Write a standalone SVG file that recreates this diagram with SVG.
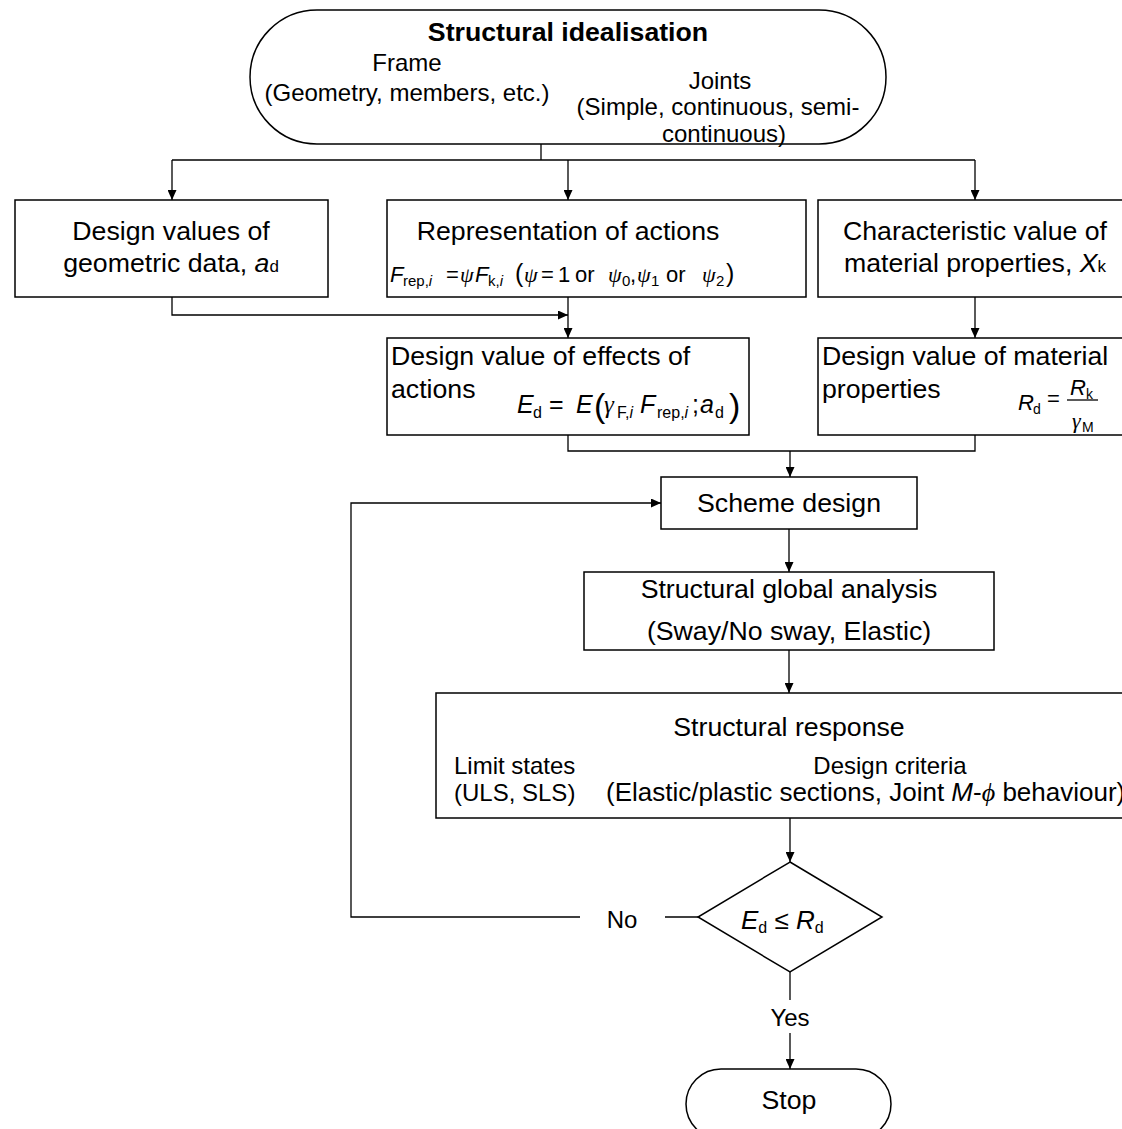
<svg xmlns="http://www.w3.org/2000/svg" width="1122" height="1129" viewBox="0 0 1122 1129">
<style>
text{font-family:"Liberation Sans",Arial,sans-serif;fill:#000}
.b{font-size:26.7px}
.m{font-size:24px}
.f{font-size:22px}
.s{font-size:15px}
.i{font-style:italic}
.g{font-family:"Liberation Serif","Times New Roman",serif;font-style:italic}
.box{fill:#fff;stroke:#000;stroke-width:1.5}
.ln{fill:none;stroke:#000;stroke-width:1.3}
</style>
<defs>
<marker id="ah" markerWidth="10" markerHeight="9" refX="10" refY="4.5" orient="auto" markerUnits="userSpaceOnUse">
<path d="M0,0 L10,4.5 L0,9 z" fill="#000"/>
</marker>
</defs>
<rect width="1122" height="1129" fill="#fff"/>

<g id="connectors">
<path class="ln" d="M541,144 V160"/>
<path class="ln" d="M172,160 H975"/>
<path class="ln" d="M172,160 V200" marker-end="url(#ah)"/>
<path class="ln" d="M568,160 V200" marker-end="url(#ah)"/>
<path class="ln" d="M975,160 V200" marker-end="url(#ah)"/>
<path class="ln" d="M172,297 V315 H568" marker-end="url(#ah)"/>
<path class="ln" d="M568,297 V338" marker-end="url(#ah)"/>
<path class="ln" d="M975,297 V338" marker-end="url(#ah)"/>
<path class="ln" d="M568,435 V451 H975 V435"/>
<path class="ln" d="M790,451 V477" marker-end="url(#ah)"/>
<path class="ln" d="M789,529 V572" marker-end="url(#ah)"/>
<path class="ln" d="M789,650 V693" marker-end="url(#ah)"/>
<path class="ln" d="M790,818 V862" marker-end="url(#ah)"/>
<path class="ln" d="M580,917 H351 V503 H661" marker-end="url(#ah)"/>
<path class="ln" d="M665,917 H698"/>
<path class="ln" d="M790,972 V1000"/>
<path class="ln" d="M790,1033 V1069" marker-end="url(#ah)"/>
<text class="m" x="622" y="928" text-anchor="middle">No</text>
<text class="m" x="790" y="1026" text-anchor="middle">Yes</text>
</g>

<g id="start">
<rect class="box" x="250" y="10" width="636" height="134" rx="67" ry="67"/>
<text class="b" x="568" y="41" text-anchor="middle" font-weight="bold">Structural idealisation</text>
<text class="m" x="407" y="71" text-anchor="middle">Frame</text>
<text class="m" x="407" y="101" text-anchor="middle">(Geometry, members, etc.)</text>
<text class="m" x="720" y="89" text-anchor="middle">Joints</text>
<text class="m" x="718" y="115" text-anchor="middle">(Simple, continuous, semi-</text>
<text class="m" x="724" y="142" text-anchor="middle">continuous)</text>
</g>

<g id="geometric">
<rect class="box" x="15" y="200" width="313" height="97"/>
<text class="b" x="171" y="240" text-anchor="middle">Design values of</text>
<text class="b" x="171" y="272" text-anchor="middle">geometric data, <tspan class="i">a</tspan><tspan font-size="17">d</tspan></text>
</g>

<g id="actions">
<rect class="box" x="387" y="200" width="419" height="97"/>
<text class="b" x="568" y="240" text-anchor="middle">Representation of actions</text>
<text class="f" y="282"><tspan class="i" x="390">F</tspan><tspan class="s" x="403" y="286">rep,</tspan><tspan class="s i" y="286">i</tspan><tspan x="446" y="282">=</tspan><tspan class="g" x="460">ψ</tspan><tspan class="i" x="475">F</tspan><tspan class="s" x="488" y="286">k,</tspan><tspan class="s i" y="286">i</tspan><tspan x="515" y="282" font-size="25">(</tspan><tspan class="g" x="524" y="282">ψ</tspan><tspan x="541">=</tspan><tspan x="558">1</tspan><tspan x="575">or</tspan><tspan class="g" x="608">ψ</tspan><tspan class="s" x="622" y="286">0</tspan><tspan x="630" y="282">,</tspan><tspan class="g" x="637">ψ</tspan><tspan class="s" x="651" y="286">1</tspan><tspan x="666" y="282">or</tspan><tspan class="g" x="702">ψ</tspan><tspan class="s" x="716" y="286">2</tspan><tspan x="726" y="282" font-size="25">)</tspan></text>
</g>

<g id="material">
<rect class="box" x="818" y="200" width="320" height="97"/>
<text class="b" x="975" y="240" text-anchor="middle">Characteristic value of</text>
<text class="b" x="975" y="272" text-anchor="middle">material properties, <tspan class="i">X</tspan><tspan font-size="17">k</tspan></text>
</g>

<g id="effects">
<rect class="box" x="387" y="338" width="362" height="97"/>
<text class="b" x="391" y="365">Design value of effects of</text>
<text class="b" x="391" y="398">actions</text>
<text font-size="25" y="413"><tspan class="i" x="517">E</tspan><tspan font-size="16" x="533" y="418">d</tspan><tspan x="549" y="413">=</tspan><tspan class="i" x="576">E</tspan><tspan font-size="34" x="594" y="417">(</tspan><tspan class="g" x="604" y="413">γ</tspan><tspan font-size="16" x="617" y="418">F,</tspan><tspan font-size="16" class="i" y="418">i</tspan><tspan class="i" x="640" y="413">F</tspan><tspan font-size="16" x="657" y="418">rep,</tspan><tspan font-size="16" class="i" y="418">i</tspan><tspan x="692" y="413">;</tspan><tspan class="i" x="700">a</tspan><tspan font-size="16" x="715" y="418">d</tspan><tspan font-size="34" x="729" y="417">)</tspan></text>
</g>

<g id="design-material">
<rect class="box" x="818" y="338" width="320" height="97"/>
<text class="b" x="822" y="365">Design value of material</text>
<text class="b" x="822" y="398">properties</text>
<text font-size="22" y="410"><tspan class="i" x="1018">R</tspan><tspan font-size="14" x="1033" y="414">d</tspan><tspan x="1047" y="406">=</tspan></text>
<text font-size="22" y="395"><tspan class="i" x="1070">R</tspan><tspan font-size="14" x="1086" y="399">k</tspan></text>
<path class="ln" d="M1067,400 H1098" stroke-width="1"/>
<text font-size="22" y="428"><tspan class="g" x="1072">γ</tspan><tspan font-size="14" x="1082" y="432">M</tspan></text>
</g>

<g id="scheme">
<rect class="box" x="661" y="477" width="256" height="52"/>
<text class="b" x="789" y="512" text-anchor="middle">Scheme design</text>
</g>

<g id="global">
<rect class="box" x="584" y="572" width="410" height="78"/>
<text class="b" x="789" y="598" text-anchor="middle">Structural global analysis</text>
<text class="b" x="789" y="640" text-anchor="middle">(Sway/No sway, Elastic)</text>
</g>

<g id="response">
<rect class="box" x="436" y="693" width="720" height="125"/>
<text class="b" x="789" y="736" text-anchor="middle">Structural response</text>
<text class="m" x="454" y="774">Limit states</text>
<text class="m" x="454" y="801">(ULS, SLS)</text>
<text class="m" x="890" y="774" text-anchor="middle">Design criteria</text>
<text x="606" y="801" font-size="26">(Elastic/plastic sections, Joint <tspan class="i">M</tspan>-<tspan class="g">ϕ</tspan> behaviour)</text>
</g>

<g id="check">
<path class="box" d="M790,862 L882,917 L790,972 L698,917 Z"/>
<text font-size="26" y="929"><tspan class="i" x="741">E</tspan><tspan font-size="16" y="933">d</tspan><tspan y="929"> ≤ </tspan><tspan class="i">R</tspan><tspan font-size="16" y="933">d</tspan></text>
</g>

<g id="stop">
<rect class="box" x="686" y="1069" width="205" height="70" rx="35" ry="35"/>
<text class="b" x="789" y="1109" text-anchor="middle">Stop</text>
</g>
</svg>
